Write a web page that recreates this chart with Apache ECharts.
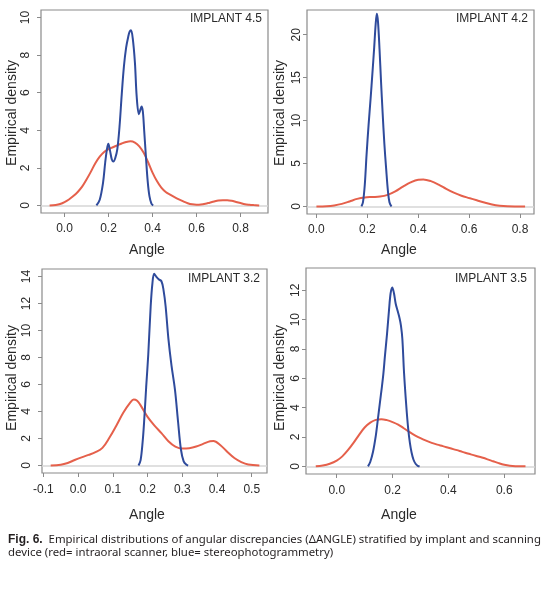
<!DOCTYPE html>
<html><head><meta charset="utf-8">
<script src="https://cdn.jsdelivr.net/npm/echarts@6/dist/echarts.min.js"></script>
<style>html,body{margin:0;padding:0;background:#fff}#c{width:550px;height:591px}</style>
</head><body><div id="c"></div><script>
// ---- Data (x = Angle, y = empirical density) ----
const panelTitles = ['IMPLANT 4.5', 'IMPLANT 4.2', 'IMPLANT 3.2', 'IMPLANT 3.5'];

const red45 = [[-0.068,0],[-0.04,0.03],[-0.02,0.08],[0.0,0.18],[0.02,0.32],[0.04,0.5],[0.06,0.72],[0.08,1.0],[0.1,1.38],[0.12,1.8],[0.14,2.25],[0.16,2.6],[0.18,2.85],[0.2,3.0],[0.22,3.1],[0.24,3.2],[0.26,3.3],[0.28,3.38],[0.3,3.42],[0.32,3.35],[0.34,3.15],[0.36,2.8],[0.38,2.3],[0.4,1.75],[0.42,1.3],[0.44,0.95],[0.46,0.72],[0.48,0.58],[0.5,0.45],[0.52,0.33],[0.54,0.22],[0.56,0.12],[0.58,0.06],[0.6,0.04],[0.62,0.05],[0.64,0.09],[0.66,0.15],[0.68,0.21],[0.7,0.26],[0.72,0.28],[0.74,0.28],[0.76,0.25],[0.78,0.19],[0.8,0.13],[0.82,0.07],[0.84,0.04],[0.86,0.02],[0.885,0.0]];
const blue45 = [[0.145,0],[0.16,0.3],[0.175,1.2],[0.185,2.3],[0.193,3.0],[0.199,3.28],[0.207,2.9],[0.215,2.45],[0.222,2.34],[0.23,2.5],[0.24,3.0],[0.25,4.2],[0.26,5.9],[0.27,7.4],[0.28,8.4],[0.29,9.0],[0.296,9.25],[0.302,9.32],[0.31,8.9],[0.32,7.6],[0.328,5.8],[0.338,4.86],[0.345,5.1],[0.35,5.27],[0.356,5.0],[0.362,4.0],[0.37,2.6],[0.378,1.3],[0.386,0.5],[0.395,0.1],[0.403,0]];

const red42 = [[0.0,0.0],[0.04,0.03],[0.07,0.12],[0.1,0.3],[0.13,0.58],[0.16,0.88],[0.19,1.05],[0.22,1.1],[0.25,1.15],[0.28,1.35],[0.31,1.75],[0.34,2.3],[0.37,2.8],[0.4,3.12],[0.42,3.15],[0.45,2.95],[0.48,2.55],[0.51,2.05],[0.54,1.6],[0.57,1.25],[0.6,0.98],[0.63,0.72],[0.66,0.45],[0.69,0.22],[0.72,0.08],[0.75,0.02],[0.82,0.0]];
const blue42 = [[0.177,0],[0.183,0.5],[0.19,2.5],[0.197,6.0],[0.205,9.5],[0.213,12.6],[0.22,15.5],[0.227,18.5],[0.233,21.3],[0.2375,22.45],[0.242,21.5],[0.248,18.3],[0.254,14.5],[0.26,11.0],[0.267,7.3],[0.274,4.4],[0.281,1.8],[0.287,0.5],[0.295,0]];

const red32 = [[-0.079,0],[-0.05,0.05],[-0.03,0.18],[-0.01,0.4],[0.01,0.6],[0.03,0.78],[0.05,0.98],[0.07,1.3],[0.09,2.05],[0.11,2.95],[0.13,3.9],[0.15,4.65],[0.16,4.89],[0.17,4.8],[0.18,4.45],[0.2,3.6],[0.22,2.95],[0.24,2.4],[0.26,1.8],[0.28,1.4],[0.3,1.25],[0.32,1.28],[0.34,1.4],[0.36,1.6],[0.38,1.8],[0.39,1.82],[0.41,1.5],[0.43,1.0],[0.45,0.55],[0.47,0.25],[0.49,0.07],[0.522,0]];
const blue32 = [[0.174,0],[0.18,0.4],[0.186,1.8],[0.19,3.2],[0.196,5.8],[0.202,8.2],[0.209,11.8],[0.214,13.5],[0.219,14.2],[0.225,14.0],[0.232,13.8],[0.24,13.65],[0.246,13.0],[0.252,11.8],[0.26,9.4],[0.269,7.4],[0.279,5.6],[0.288,3.2],[0.296,1.2],[0.304,0.3],[0.312,0.05],[0.317,0]];

const red35 = [[-0.075,0],[-0.05,0.06],[-0.025,0.18],[0.0,0.39],[0.02,0.68],[0.04,1.1],[0.06,1.6],[0.08,2.15],[0.1,2.65],[0.12,2.98],[0.14,3.17],[0.16,3.22],[0.18,3.15],[0.2,3.02],[0.22,2.85],[0.24,2.6],[0.26,2.35],[0.28,2.12],[0.3,1.92],[0.32,1.75],[0.34,1.6],[0.36,1.48],[0.38,1.38],[0.4,1.27],[0.42,1.16],[0.44,1.05],[0.46,0.93],[0.48,0.82],[0.5,0.71],[0.52,0.6],[0.54,0.48],[0.56,0.35],[0.58,0.22],[0.6,0.11],[0.62,0.04],[0.64,0.01],[0.676,0]];
const blue35 = [[0.112,0],[0.12,0.3],[0.13,1.0],[0.14,2.1],[0.146,3.0],[0.155,4.4],[0.161,5.3],[0.167,6.3],[0.173,7.6],[0.18,9.0],[0.187,10.6],[0.193,11.8],[0.199,12.19],[0.205,11.8],[0.211,11.1],[0.218,10.6],[0.225,10.1],[0.23,9.6],[0.235,8.7],[0.241,6.4],[0.249,4.15],[0.256,2.55],[0.262,1.6],[0.268,0.95],[0.275,0.45],[0.283,0.16],[0.29,0.04],[0.297,0]];

// ---- Tick labels ----
const xTicks45 = [0.0,0.2,0.4,0.6,0.8];
const yTicks45 = [0,2,4,6,8,10];
const xTicks42 = [0.0,0.2,0.4,0.6,0.8];
const yTicks42 = [0,5,10,15,20];
const xTicks32 = [-0.1,0.0,0.1,0.2,0.3,0.4,0.5];
const yTicks32 = [0,2,4,6,8,10,12,14];
const xTicks35 = [0.0,0.2,0.4,0.6];
const yTicks35 = [0,2,4,6,8,10,12];

const captionBold = 'Fig. 6.';
const captionLine1 = 'Empirical distributions of angular discrepancies (\u0394ANGLE) stratified by implant and scanning';
const captionLine2 = 'device (red= intraoral scanner, blue= stereophotogrammetry)';

// ---- Layout ----
const RED = '#e5604b', BLUE = '#2f4b9c';
const panels = [
  {red: red45, blue: blue45, xt: xTicks45, yt: yTicks45, xr: [-0.107, 0.925], yr: [-0.4, 10.4],  ym: 9,   xm: 10, g: {left: 41, top: 10, width: 227, height: 203}},
  {red: red42, blue: blue42, xt: xTicks42, yt: yTicks42, xr: [-0.037, 0.855], yr: [-0.88, 22.88], ym: 4.5, xm: 10, g: {left: 307, top: 10, width: 227, height: 204}},
  {red: red32, blue: blue32, xt: xTicks32, yt: yTicks32, xr: [-0.104, 0.544], yr: [-0.56, 14.56], ym: 9,   xm: 11, g: {left: 42, top: 269, width: 225, height: 204}},
  {red: red35, blue: blue35, xt: xTicks35, yt: yTicks35, xr: [-0.11, 0.71],   yr: [-0.52, 13.52], ym: 4.5, xm: 11, g: {left: 306, top: 268, width: 229, height: 206}}
];
const FONT = '"Liberation Sans", Arial, sans-serif';
const CAPFONT = '"Noto Sans", "Open Sans", sans-serif';

const grid = [], xAxis = [], yAxis = [], series = [];
panels.forEach((p, i) => {
  grid.push(Object.assign({show: true, borderColor: '#8a8a8a', borderWidth: 1.2, backgroundColor: 'transparent'}, p.g));
  xAxis.push({
    type: 'value', gridIndex: i, min: p.xr[0], max: p.xr[1], position: 'bottom',
    splitLine: {show: false}, axisLine: {show: false, onZero: false},
    axisTick: {show: true, inside: false, length: 4, lineStyle: {color: '#8a8a8a'}, customValues: p.xt},
    axisLabel: {customValues: p.xt, margin: p.xm, color: '#2a2a2a', fontSize: 12, fontFamily: FONT,
      formatter: v => (Math.abs(v) < 1e-9 ? 0 : v).toFixed(1)}
  });
  yAxis.push({
    type: 'value', gridIndex: i, min: p.yr[0], max: p.yr[1], position: 'left',
    splitLine: {show: false}, axisLine: {show: false, onZero: false},
    axisTick: {show: true, inside: false, length: 4, lineStyle: {color: '#8a8a8a'}, customValues: p.yt},
    axisLabel: {customValues: p.yt, margin: p.ym, rotate: 90, color: '#2a2a2a', fontSize: 12, fontFamily: FONT,
      formatter: v => String(Math.round(v))}
  });
  series.push({
    type: 'line', xAxisIndex: i, yAxisIndex: i, data: p.red, showSymbol: false, smooth: 0.35,
    lineStyle: {color: RED, width: 2}, silent: true, z: 3,
    markLine: {silent: true, symbol: 'none', label: {show: false}, lineStyle: {color: '#d6d6d6', width: 1.5, type: 'solid'}, data: [{yAxis: 0}], z: 1}
  });
  series.push({
    type: 'line', xAxisIndex: i, yAxisIndex: i, data: p.blue, showSymbol: false, smooth: 0.35,
    lineStyle: {color: BLUE, width: 2}, silent: true, z: 4
  });
});

const txt = (x, y, text, opt) => ({type: 'text', x, y, silent: true, rotation: (opt && opt.rot) || 0,
  style: Object.assign({text, fill: '#2a2a2a', font: (opt && opt.font) || ('12px ' + FONT),
    align: (opt && opt.align) || 'center', verticalAlign: 'middle',
    textAlign: (opt && opt.align) || 'center', textVerticalAlign: 'middle'}, (opt && opt.style) || {})});

const graphic = [
  txt(262, 19, panelTitles[0], {align: 'right'}),
  txt(528, 19, panelTitles[1], {align: 'right'}),
  txt(260, 279, panelTitles[2], {align: 'right'}),
  txt(527, 279, panelTitles[3], {align: 'right'}),
  txt(12.5, 113, 'Empirical density', {rot: Math.PI / 2, font: '14px ' + FONT}),
  txt(280, 113, 'Empirical density', {rot: Math.PI / 2, font: '14px ' + FONT}),
  txt(12.5, 378, 'Empirical density', {rot: Math.PI / 2, font: '14px ' + FONT}),
  txt(280, 378, 'Empirical density', {rot: Math.PI / 2, font: '14px ' + FONT}),
  txt(147, 250, 'Angle', {font: '14px ' + FONT}),
  txt(399, 250, 'Angle', {font: '14px ' + FONT}),
  txt(147, 515, 'Angle', {font: '14px ' + FONT}),
  txt(399, 515, 'Angle', {font: '14px ' + FONT}),
  {type: 'text', x: 8, y: 540, silent: true, style: {
    text: '{b|' + captionBold + '}  ' + captionLine1,
    font: '11.4px ' + CAPFONT, fill: '#231f20', verticalAlign: 'middle', textVerticalAlign: 'middle',
    rich: {b: {fontWeight: 'bold', font: 'bold 11.4px ' + CAPFONT, fill: '#231f20'}}}},
  {type: 'text', x: 8, y: 553, silent: true, style: {
    text: captionLine2,
    font: '11.4px ' + CAPFONT, fill: '#231f20', verticalAlign: 'middle', textVerticalAlign: 'middle'}}
];

const chart = echarts.init(document.getElementById('c'), null, {renderer: 'canvas'});
chart.setOption({backgroundColor: '#fff', animation: false, grid, xAxis, yAxis, series, graphic});
</script></body></html>
